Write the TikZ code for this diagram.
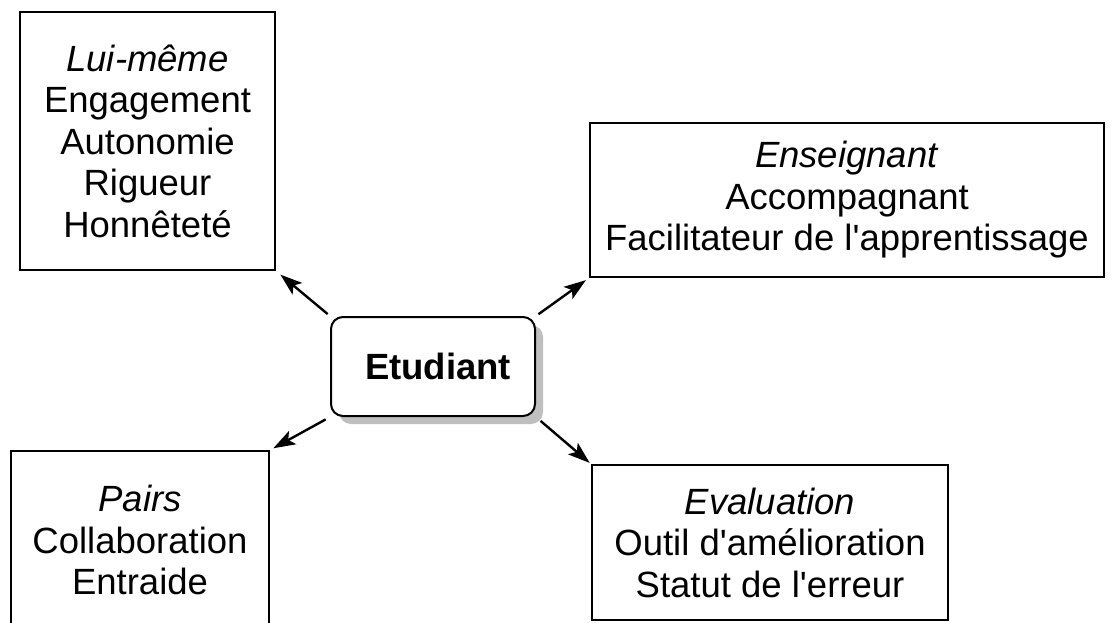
\documentclass[tikz,border=0pt]{standalone}
\usepackage{fontspec}
\setmainfont{Liberation Sans}
\usetikzlibrary{arrows.meta,shadows}
\newcommand{\apos}{\textquotesingle}
\begin{document}
\begin{tikzpicture}[x=1pt,y=-1pt,
  txt/.style={font=\fontsize{36.5}{41.5}\selectfont, align=center},
  box/.style={txt, draw=black, line width=1.6pt, rectangle, inner sep=0pt},
  hub/.style={draw=black, line width=2pt, rounded corners=12pt, fill=white, inner sep=0pt,
    minimum width=204pt, minimum height=99pt,
    font=\fontsize{36.5}{41.5}\selectfont\bfseries,
    drop shadow={shadow xshift=8pt, shadow yshift=-8pt, fill=black!25, opacity=1}},
  link/.style={line width=2.4pt, -{Stealth[length=22pt,width=15pt,inset=5pt]}}
]
\path[use as bounding box] (0,0) rectangle (1119,623);
\clip (0,0) rectangle (1119,623);
\fill[white] (0,0) rectangle (1119,623);

\node[box, minimum width=255pt, minimum height=258pt] (tl) at (147.5,141)
  {\textit{Lui-même}\\Engagement\\Autonomie\\Rigueur\\Honnêteté};
\node[box, minimum width=514pt, minimum height=154pt] (tr) at (847,200)
  {\textit{Enseignant}\\Accompagnant\\Facilitateur de l\apos apprentissage};
\node[box, minimum width=258pt, minimum height=178pt] (bl) at (140,540)
  {\textit{Pairs}\\Collaboration\\Entraide};
\node[box, minimum width=356pt, minimum height=155pt] (br) at (770,542.5)
  {\textit{Evaluation}\\Outil d\apos amélioration\\Statut de l\apos erreur};

\node[hub] (c) at (433,366.5) {\hspace{10pt}Etudiant};

\draw[link, shorten <=3pt, shorten >=6pt] (c.north west) -- (tl.south east);
\draw[link, shorten <=3pt, shorten >=4pt] (c.north east) -- (tr.south west);
\draw[link, shorten <=5pt, shorten >=4pt] (c.south west) -- (bl.north east);
\draw[link, shorten <=6pt, shorten >=2pt] (c.south east) -- (br.north west);
\end{tikzpicture}
\end{document}
